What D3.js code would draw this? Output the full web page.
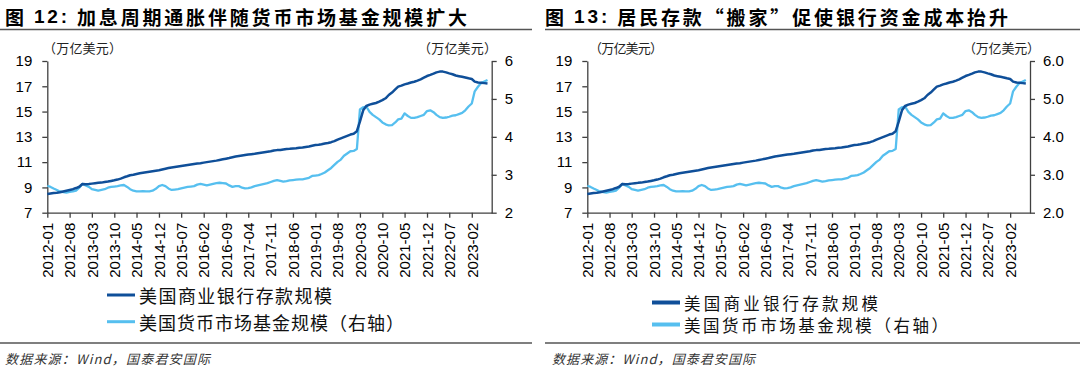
<!DOCTYPE html>
<html>
<head>
<meta charset="utf-8">
<script src="https://cdn.jsdelivr.net/npm/d3@7"></script>
<style>
  body { margin: 0; background: #fff; }
  svg { display: block; }
</style>
</head>
<body>
<svg id="chart" width="1080" height="371"></svg>
<script>
// ---- data (monthly from 2012-01 to 2023-07) ----
var startMonth = "2012-01";

// US commercial bank deposits, trillion USD (left axis)
var depositValues = [
  8.48, 8.52, 8.56, 8.58, 8.62, 8.68, 8.74, 8.80, 8.86, 8.95, 9.05, 9.27,
  9.25, 9.27, 9.30, 9.33, 9.36, 9.38, 9.42, 9.46, 9.51, 9.56, 9.62, 9.70,
  9.80, 9.88, 9.96, 10.00, 10.06, 10.12, 10.16, 10.20, 10.24, 10.28, 10.32, 10.36,
  10.42, 10.48, 10.53, 10.58, 10.62, 10.66, 10.70, 10.74, 10.78, 10.82, 10.86, 10.90,
  10.92, 10.96, 11.00, 11.04, 11.08, 11.12, 11.17, 11.22, 11.27, 11.32, 11.38, 11.44,
  11.48, 11.52, 11.56, 11.60, 11.63, 11.66, 11.70, 11.74, 11.78, 11.82, 11.86, 11.92,
  11.95, 11.96, 12.00, 12.04, 12.05, 12.08, 12.10, 12.13, 12.16, 12.20, 12.24, 12.30,
  12.35, 12.38, 12.42, 12.48, 12.52, 12.58, 12.66, 12.78, 12.88, 12.98, 13.08, 13.18,
  13.25, 13.45, 14.20, 15.10, 15.44, 15.55, 15.62, 15.68, 15.78, 15.90, 16.05, 16.31,
  16.50, 16.75, 16.97, 17.05, 17.15, 17.22, 17.30, 17.36, 17.45, 17.55, 17.68, 17.81,
  17.90, 18.00, 18.10, 18.16, 18.16, 18.10, 18.02, 17.95, 17.85, 17.80, 17.75, 17.70,
  17.63, 17.58, 17.37, 17.30, 17.28, 17.25, 17.22
];

// US money market fund assets, trillion USD (right axis)
var mmfValues = [
  2.71, 2.68, 2.64, 2.60, 2.56, 2.54, 2.53, 2.55, 2.56, 2.58, 2.66, 2.76,
  2.72, 2.68, 2.62, 2.60, 2.58, 2.60, 2.62, 2.66, 2.68, 2.69, 2.70, 2.72,
  2.73, 2.68, 2.62, 2.58, 2.56, 2.56, 2.57, 2.56, 2.56, 2.58, 2.63, 2.70,
  2.73, 2.70, 2.64, 2.60, 2.61, 2.62, 2.64, 2.66, 2.68, 2.69, 2.70, 2.74,
  2.76, 2.74, 2.72, 2.74, 2.76, 2.78, 2.79, 2.78, 2.77, 2.72, 2.68, 2.70,
  2.70, 2.66, 2.64, 2.65, 2.67, 2.70, 2.72, 2.74, 2.76, 2.78, 2.81, 2.84,
  2.86, 2.84, 2.82, 2.83, 2.85, 2.86, 2.87, 2.88, 2.88, 2.90, 2.92, 2.97,
  2.98, 2.99, 3.02, 3.06, 3.12, 3.18, 3.26, 3.34, 3.40, 3.50, 3.56, 3.62,
  3.63, 3.68, 4.72, 4.78, 4.80, 4.66, 4.58, 4.52, 4.46, 4.38, 4.33, 4.30,
  4.31, 4.38, 4.46, 4.48, 4.62, 4.55, 4.50, 4.50, 4.52, 4.55, 4.58, 4.68,
  4.70, 4.65, 4.58, 4.52, 4.50, 4.51, 4.53, 4.56, 4.57, 4.60, 4.63, 4.70,
  4.80, 4.88, 5.20, 5.32, 5.42, 5.46, 5.50
];

var xTickLabels = ["2012-01", "2012-08", "2013-03", "2013-10", "2014-05", "2014-12",
  "2015-07", "2016-02", "2016-09", "2017-04", "2017-11", "2018-06", "2019-01",
  "2019-08", "2020-03", "2020-10", "2021-05", "2021-12", "2022-07", "2023-02"];
var leftTicks = [7, 9, 11, 13, 15, 17, 19];
var rightTicks = [2, 3, 4, 5, 6];

var seriesNames = ["美国商业银行存款规模", "美国货币市场基金规模（右轴）"];
var unitLabel = "（万亿美元）";
var sourceText = "数据来源：Wind，国泰君安国际";

var darkBlue = "#0f4f99";
var lightBlue = "#56bfef";
var axisColor = "#404040";
var cjk = "'Noto Sans CJK SC', 'Noto Sans', sans-serif";
var latin = "'Liberation Sans', Arial, sans-serif";

var parseMonth = d3.timeParse("%Y-%m");
var start = parseMonth(startMonth);

var depositData = depositValues.map(function(v, i) {
  return { date: d3.timeMonth.offset(start, i), value: v };
});
var mmfData = mmfValues.map(function(v, i) {
  return { date: d3.timeMonth.offset(start, i), value: v };
});

var svg = d3.select("#chart");

function drawPanel(cfg) {
  var g = svg.append("g");

  // title
  var title = g.append("text")
    .attr("x", cfg.titleX).attr("y", 15.5)
    .attr("dominant-baseline", "central")
    .attr("font-family", cjk).attr("font-weight", "bold")
    .attr("font-size", 19).attr("fill", "#000")
    .attr("textLength", cfg.titleW).attr("lengthAdjust", "spacing");
  title.append("tspan").text("图 ");
  title.append("tspan").attr("font-family", latin).text(cfg.num + ":");
  title.append("tspan").text(" " + cfg.title);

  // rules
  g.append("line")
    .attr("x1", cfg.ruleX0).attr("x2", cfg.ruleX1)
    .attr("y1", 29.5).attr("y2", 29.5)
    .attr("stroke", "#555").attr("stroke-width", 1.5);
  g.append("line")
    .attr("x1", cfg.ruleX0).attr("x2", cfg.ruleX1)
    .attr("y1", 343).attr("y2", 343)
    .attr("stroke", "#555").attr("stroke-width", 1.5);

  // units
  g.append("text")
    .attr("x", cfg.unitLX).attr("y", 47)
    .attr("dominant-baseline", "central")
    .attr("font-family", cjk).attr("font-size", 13).attr("fill", "#222")
    .attr("textLength", cfg.unitLW).attr("lengthAdjust", "spacing")
    .text(unitLabel);
  g.append("text")
    .attr("x", cfg.unitRX).attr("y", 47)
    .attr("dominant-baseline", "central")
    .attr("font-family", cjk).attr("font-size", 13).attr("fill", "#222")
    .attr("textLength", cfg.unitRW).attr("lengthAdjust", "spacing")
    .text(unitLabel);

  // scales
  var x = d3.scaleTime()
    .domain([start, d3.timeDay.offset(parseMonth("2023-08"), 9)])
    .range([cfg.x0, cfg.x1]);
  var yL = d3.scaleLinear().domain([7, 19]).range([212.7, 61]);
  var yR = d3.scaleLinear().domain([2, 6]).range([212.7, 61]);

  // axes
  var xAxis = d3.axisBottom(x)
    .tickValues(xTickLabels.map(parseMonth))
    .tickFormat(d3.timeFormat("%Y-%m"))
    .tickSize(5).tickSizeOuter(0);
  var gx = g.append("g")
    .attr("transform", "translate(0,212.7)")
    .call(xAxis);
  gx.selectAll("text")
    .attr("transform", "rotate(-90)")
    .attr("text-anchor", "end")
    .attr("x", -10).attr("y", 0).attr("dy", "0.35em")
    .attr("font-family", latin).attr("font-size", 15).attr("fill", "#000");

  var gl = g.append("g")
    .attr("transform", "translate(" + cfg.x0 + ",0)")
    .call(d3.axisLeft(yL).tickValues(leftTicks).tickSize(5).tickSizeOuter(0).tickPadding(10));
  gl.selectAll("text").attr("font-family", latin).attr("font-size", 15).attr("fill", "#000");

  var gr = g.append("g")
    .attr("transform", "translate(" + cfg.x1 + ",0)")
    .call(d3.axisRight(yR).tickValues(rightTicks).tickSize(5).tickSizeOuter(0)
      .tickPadding(8).tickFormat(d3.format(cfg.rightFmt)));
  gr.selectAll("text").attr("font-family", latin).attr("font-size", 15).attr("fill", "#000");

  g.selectAll(".domain, .tick line")
    .attr("stroke", axisColor).attr("stroke-width", 1.3);

  // lines
  var lineL = d3.line()
    .x(function(d) { return x(d.date); })
    .y(function(d) { return yL(d.value); });
  var lineR = d3.line()
    .x(function(d) { return x(d.date); })
    .y(function(d) { return yR(d.value); });

  g.append("path").datum(mmfData)
    .attr("fill", "none").attr("stroke", lightBlue)
    .attr("stroke-width", 2.3).attr("stroke-linejoin", "round")
    .attr("d", lineR);
  g.append("path").datum(depositData)
    .attr("fill", "none").attr("stroke", darkBlue)
    .attr("stroke-width", 2.5).attr("stroke-linejoin", "round")
    .attr("d", lineL);

  // legend
  var colors = [darkBlue, lightBlue];
  seriesNames.forEach(function(name, i) {
    var ly = cfg.legY[i];
    g.append("line")
      .attr("x1", cfg.legX).attr("x2", cfg.legX + 28)
      .attr("y1", ly).attr("y2", ly)
      .attr("stroke", colors[i]).attr("stroke-width", cfg.legStroke);
    g.append("text")
      .attr("x", cfg.legX + 32).attr("y", ly)
      .attr("dominant-baseline", "central")
      .attr("font-family", cjk).attr("font-size", cfg.legFont).attr("fill", "#111")
      .attr("textLength", cfg.legW[i]).attr("lengthAdjust", "spacing")
      .text(name);
  });

  // source
  g.append("text")
    .attr("x", cfg.srcX).attr("y", 358)
    .attr("dominant-baseline", "central")
    .attr("font-family", cjk).attr("font-size", 13).attr("font-style", "italic")
    .attr("fill", "#333")
    .attr("textLength", cfg.srcW).attr("lengthAdjust", "spacing")
    .text(sourceText);
}

drawPanel({
  num: "12", title: "加息周期通胀伴随货币市场基金规模扩大",
  titleX: 5, titleW: 462,
  ruleX0: 0, ruleX1: 532,
  unitLX: 43, unitLW: 79, unitRX: 418, unitRW: 79,
  x0: 47.3, x1: 491.7, rightFmt: "d",
  legX: 107, legY: [295, 321.7], legW: [193, 265], legStroke: 3, legFont: 18,
  srcX: 5, srcW: 205
});

drawPanel({
  num: "13", title: "居民存款“搬家”促使银行资金成本抬升",
  titleX: 545, titleW: 463,
  ruleX0: 545, ruleX1: 1080,
  unitLX: 589, unitLW: 74, unitRX: 963, unitRW: 77,
  x0: 587.3, x1: 1030, rightFmt: ".1f",
  legX: 652, legY: [302.5, 324.5], legW: [194, 264], legStroke: 4, legFont: 16.5,
  srcX: 552, srcW: 203
});
</script>
</body>
</html>
